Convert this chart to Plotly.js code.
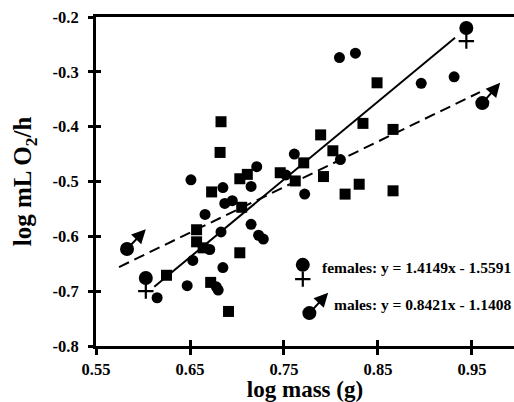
<!DOCTYPE html>
<html>
<head>
<meta charset="utf-8">
<script src="https://cdn.plot.ly/plotly-3.0.1.min.js"></script>
<style>html,body{margin:0;padding:0;background:#fff;}#chart{width:514px;height:402px;}</style>
</head>
<body>
<div id="chart"></div>
<script>
// Data points
const circleX = [0.651, 0.721, 0.715, 0.685, 0.687, 0.695, 0.761, 0.810, 0.752, 0.772, 0.809, 0.826, 0.896, 0.931, 0.666, 0.683, 0.715, 0.723, 0.728, 0.671, 0.653, 0.685, 0.647, 0.678, 0.680, 0.615];
const circleY = [-0.497, -0.473, -0.509, -0.511, -0.540, -0.535, -0.450, -0.460, -0.488, -0.523, -0.274, -0.266, -0.321, -0.309, -0.560, -0.592, -0.578, -0.598, -0.605, -0.624, -0.644, -0.657, -0.690, -0.692, -0.698, -0.712];
const squareX = [0.683, 0.682, 0.673, 0.703, 0.711, 0.705, 0.746, 0.771, 0.762, 0.792, 0.815, 0.830, 0.866, 0.789, 0.802, 0.834, 0.866, 0.849, 0.657, 0.657, 0.664, 0.703, 0.625, 0.672, 0.691];
const squareY = [-0.391, -0.447, -0.519, -0.495, -0.487, -0.547, -0.484, -0.466, -0.499, -0.491, -0.523, -0.505, -0.517, -0.415, -0.444, -0.394, -0.405, -0.320, -0.588, -0.610, -0.621, -0.630, -0.671, -0.684, -0.737];

// Regression lines (end points)
const femaleLineX = [0.612, 0.932];
const femaleLineY = [-0.692, -0.238];
const maleLineX = [0.5745, 0.9585];
const maleLineY = [-0.656, -0.337];

// Sex symbols (circle positions, cross / arrow-tip positions)
const femaleSymX = [0.603, 0.944, 0.770];
const femaleSymY = [-0.676, -0.220, -0.652];
const femaleCrossY = [-0.700, -0.244, -0.678];
const maleSymX = [0.583, 0.961, 0.777];
const maleSymY = [-0.623, -0.357, -0.740];
const maleTipX = [0.603, 0.980, 0.797];
const maleTipY = [-0.587, -0.320, -0.703];

// Equation labels
const eqTexts = ['females: y = 1.4149x - 1.5591', 'males: y = 0.8421x - 1.1408'];
const eqX = [0.788, 0.801];
const eqY = [-0.656, -0.725];

// Axis ticks
const xTicks = [0.55, 0.65, 0.75, 0.85, 0.95];
const xTickText = ['0.55', '0.65', '0.75', '0.85', '0.95'];
const yTicks = [-0.8, -0.7, -0.6, -0.5, -0.4, -0.3, -0.2];
const yTickText = ['-0.8', '-0.7', '-0.6', '-0.5', '-0.4', '-0.3', '-0.2'];

const FONT = 'Liberation Serif, Times New Roman, serif';
const xRange = [0.55, 0.9947];
const yRange = [-0.8, -0.2];

const traces = [
  {x: femaleLineX, y: femaleLineY, mode: 'lines', line: {color: '#000', width: 2}, hoverinfo: 'skip'},
  {x: maleLineX, y: maleLineY, mode: 'lines', line: {color: '#000', width: 2, dash: '11px,6px'}, hoverinfo: 'skip'},
  {x: circleX, y: circleY, mode: 'markers', marker: {symbol: 'circle', size: 11, color: '#000'}},
  {x: squareX, y: squareY, mode: 'markers', marker: {symbol: 'square', size: 11, color: '#000'}},
  {x: femaleSymX, y: femaleSymY, mode: 'markers', marker: {symbol: 'circle', size: 14, color: '#000'}},
  {x: femaleSymX, y: femaleCrossY, mode: 'markers', marker: {symbol: 'cross-thin', size: 11, color: '#000', line: {color: '#000', width: 2.2}}},
  {x: maleSymX, y: maleSymY, mode: 'markers', marker: {symbol: 'circle', size: 14, color: '#000'}},
  {x: [null], y: [null], xaxis: 'x2', yaxis: 'y2', mode: 'markers', hoverinfo: 'skip'}
];

const annotations = [];
for (let i = 0; i < maleSymX.length; i++) {
  annotations.push({
    x: maleTipX[i], y: maleTipY[i], ax: maleSymX[i], ay: maleSymY[i],
    xref: 'x', yref: 'y', axref: 'x', ayref: 'y',
    text: '', showarrow: true, arrowhead: 2, arrowsize: 1.4, arrowwidth: 2,
    arrowcolor: '#000', standoff: 0, startstandoff: 0
  });
}
for (let i = 0; i < eqTexts.length; i++) {
  annotations.push({
    x: eqX[i], y: eqY[i], xref: 'x', yref: 'y', text: eqTexts[i], showarrow: false,
    xanchor: 'left', yanchor: 'middle',
    font: {family: FONT, size: 15.5, color: '#000', weight: 'bold'}
  });
}

const tickFont = {family: FONT, size: 16.5, color: '#000', weight: 'bold'};

const layout = {
  width: 514, height: 402,
  margin: {l: 96, r: 0, t: 17, b: 56},
  paper_bgcolor: '#fff', plot_bgcolor: '#fff',
  showlegend: false,
  xaxis: {
    range: xRange, tickmode: 'array', tickvals: xTicks, ticktext: xTickText,
    showgrid: false, zeroline: false, showline: true, linecolor: '#000', linewidth: 3,
    mirror: true, ticks: 'outside', ticklen: 6, tickwidth: 3, tickcolor: '#000',
    tickfont: tickFont,
    title: {text: 'log mass (g)', font: {family: FONT, size: 23, color: '#000', weight: 'bold'}, standoff: 8}
  },
  yaxis: {
    range: yRange, tickmode: 'array', tickvals: yTicks, ticktext: yTickText,
    showgrid: false, zeroline: false, showline: true, linecolor: '#000', linewidth: 3,
    ticks: 'outside', ticklen: 5, tickwidth: 3, tickcolor: '#000',
    tickfont: tickFont, ticklabelstandoff: 6,
    title: {text: 'log mL O<sub>2</sub>/h', font: {family: FONT, size: 25, color: '#000', weight: 'bold'}, standoff: 14}
  },
  xaxis2: {
    overlaying: 'x', anchor: 'y', side: 'bottom', range: xRange,
    tickmode: 'array', tickvals: xTicks, showticklabels: false,
    showgrid: false, zeroline: false, showline: false,
    ticks: 'inside', ticklen: 6, tickwidth: 3, tickcolor: '#000'
  },
  yaxis2: {
    overlaying: 'y', anchor: 'x', side: 'left', range: yRange,
    tickmode: 'array', tickvals: yTicks, showticklabels: false,
    showgrid: false, zeroline: false, showline: false,
    ticks: 'inside', ticklen: 5, tickwidth: 3, tickcolor: '#000'
  },
  annotations: annotations
};

Plotly.newPlot('chart', traces, layout, {displayModeBar: false, staticPlot: true});
</script>
</body>
</html>
